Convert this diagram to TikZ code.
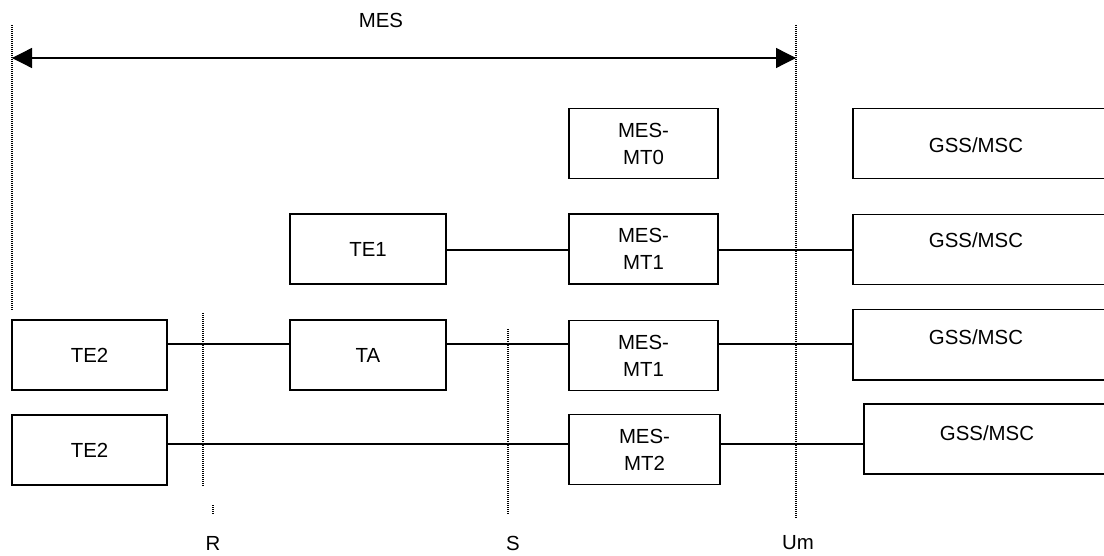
\documentclass[tikz,border=0pt]{standalone}
\usepackage{fontspec}
\setmainfont{Liberation Sans}
\usetikzlibrary{positioning,arrows.meta}
\newcommand{\lbl}{\fontsize{20.4}{27}\selectfont}
\tikzset{
  box/.style={draw,line width=1.5pt,inner sep=0,align=center,font=\lbl,minimum height=70},
  wire/.style={line width=1.3pt},
  refline/.style={line width=1.4pt,dash pattern=on 1pt off 1pt},
}
\newcommand{\unit}[5]{% x, y, width, name, text   (terminal / mobile unit box)
  \node[box,minimum width=#3] (#4) at (#1,#2) {#5};}
\newcommand{\gss}[4]{% left x, top y, name, text y   (ground station box, runs off the page)
  \node[box,minimum width=258,anchor=north west] (#3) at (#1,#2) {};
  \node[font=\lbl] (#3t) at (#1+124,#4) {GSS/MSC};}

\begin{document}
\begin{tikzpicture}[x=1pt,y=-1pt]
  \useasboundingbox (0,0) rectangle (1104,556);
  % MES span
  \node[font=\lbl] (mes) at (381,20) {MES};
  \coordinate (mesL) at (12,58); \coordinate (mesR) at (796,58);
  \draw[wire,{Triangle[length=20pt,width=20pt]}-{Triangle[length=20pt,width=20pt]}] (mesL) -- (mesR);
  % reference points
  \coordinate (aT) at (12,25);  \coordinate (aB) at (12,310);
  \coordinate (umT) at (796,25); \coordinate (umB) at (796,518);
  \coordinate (rT) at (203,313); \coordinate (rB) at (203,486);
  \coordinate (rmT) at (213,505); \coordinate (rmB) at (213,515);
  \coordinate (sT) at (508,329); \coordinate (sB) at (508,515);
  \draw[refline] (aT) -- (aB);
  \draw[refline] (umT) -- (umB);
  \draw[refline] (rT) -- (rB);
  \draw[refline] (rmT) -- (rmB);
  \draw[refline] (sT) -- (sB);
  \node[font=\lbl] (rlab) at (213,543) {R};
  \node[font=\lbl] (slab) at (513,543) {S};
  \node[font=\lbl] (umlab) at (798,543) {Um};
  % row 0
  \unit{643.5}{143.5}{149}{mt0}{MES-\\MT0}
  \gss{852}{108}{gss0}{145}
  % row 1
  \unit{368}{249}{156}{te1}{TE1}
  \unit{643.5}{249}{149}{mt1a}{MES-\\MT1}
  \gss{852}{214}{gss1}{240}
  \coordinate (row1) at (0,250);
  \draw[wire] (te1.east |- row1) -- (mt1a.west |- row1);
  \draw[wire] (mt1a.east |- row1) -- (gss1.west |- row1);
  % row 2
  \unit{89.5}{355}{155}{te2a}{TE2}
  \unit{368}{355}{156}{ta}{TA}
  \unit{643.5}{355.5}{149}{mt1b}{MES-\\MT1}
  \gss{852}{309}{gss2}{337}
  \coordinate (row2) at (0,344);
  \draw[wire] (te2a.east |- row2) -- (ta.west |- row2);
  \draw[wire] (ta.east |- row2) -- (mt1b.west |- row2);
  \draw[wire] (mt1b.east |- row2) -- (gss2.west |- row2);
  % row 3
  \unit{89.5}{450}{155}{te2b}{TE2}
  \unit{644.5}{449.5}{151}{mt2}{MES-\\MT2}
  \gss{863}{403}{gss3}{433}
  \coordinate (row3) at (0,444);
  \draw[wire] (te2b.east |- row3) -- (mt2.west |- row3);
  \draw[wire] (mt2.east |- row3) -- (gss3.west |- row3);
\end{tikzpicture}
\end{document}
